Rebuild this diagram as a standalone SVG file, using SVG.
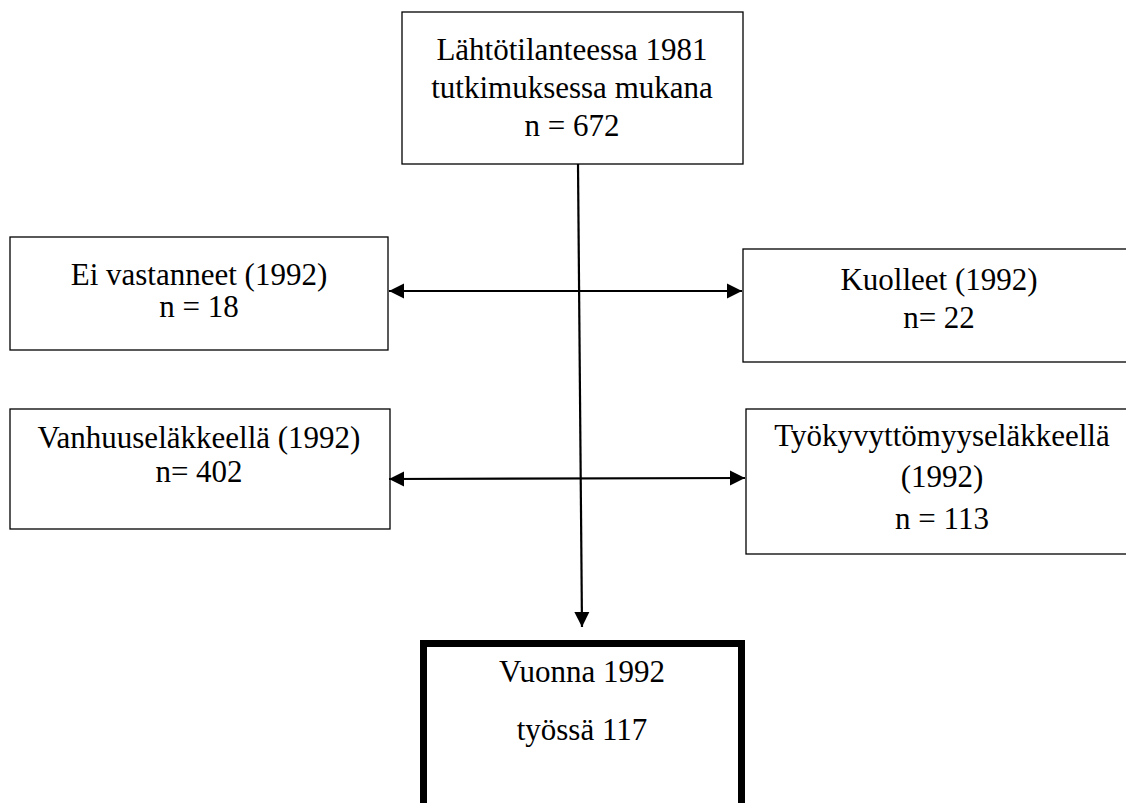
<svg xmlns="http://www.w3.org/2000/svg" width="1126" height="803" viewBox="0 0 1126 803">
<defs>
<style>
.box{fill:#fff;stroke:#000;stroke-width:1.3}
.thick{fill:#fff;stroke:#000;stroke-width:7}
.t{font-family:"Liberation Serif","Times New Roman",serif;font-size:31px;fill:#000;text-anchor:middle}
.c{stroke:#000;stroke-width:2.2;fill:none}
</style>
<marker id="ah" viewBox="0 0 10 10" refX="10" refY="5" markerWidth="7" markerHeight="7" markerUnits="strokeWidth" orient="auto-start-reverse">
<path d="M0,0 L10,5 L0,10 z" fill="#000"/>
</marker>
</defs>
<rect width="1126" height="803" fill="#fff"/>
<g id="n-start">
<rect class="box" x="402" y="12" width="341" height="152"/>
<text class="t" x="572" y="60">Lähtötilanteessa 1981</text>
<text class="t" x="572" y="98">tutkimuksessa mukana</text>
<text class="t" x="572" y="136">n = 672</text>
</g>
<g id="n-eivast">
<rect class="box" x="10" y="237" width="378" height="113"/>
<text class="t" x="199" y="285">Ei vastanneet (1992)</text>
<text class="t" x="199" y="317">n = 18</text>
</g>
<g id="n-kuolleet">
<rect class="box" x="743" y="249" width="400" height="113"/>
<text class="t" x="939" y="290">Kuolleet (1992)</text>
<text class="t" x="939" y="328">n= 22</text>
</g>
<g id="n-vanhuus">
<rect class="box" x="10" y="409" width="380" height="120"/>
<text class="t" x="199" y="448">Vanhuuseläkkeellä (1992)</text>
<text class="t" x="199" y="482">n= 402</text>
</g>
<g id="n-tyokyv">
<rect class="box" x="746" y="409" width="400" height="145"/>
<text class="t" x="942" y="446">Työkyvyttömyyseläkkeellä</text>
<text class="t" x="942" y="487">(1992)</text>
<text class="t" x="942" y="529">n = 113</text>
</g>
<g id="n-tyossa">
<rect class="thick" x="423.5" y="643.5" width="318" height="170"/>
<text class="t" x="582" y="682">Vuonna 1992</text>
<text class="t" x="582" y="740">työssä 117</text>
</g>
<g id="connectors">
<path class="c" d="M578,164 L582,627" marker-end="url(#ah)"/>
<path class="c" d="M389,291 L742,291" marker-start="url(#ah)" marker-end="url(#ah)"/>
<path class="c" d="M389,479 L745,478" marker-start="url(#ah)" marker-end="url(#ah)"/>
</g>
</svg>
